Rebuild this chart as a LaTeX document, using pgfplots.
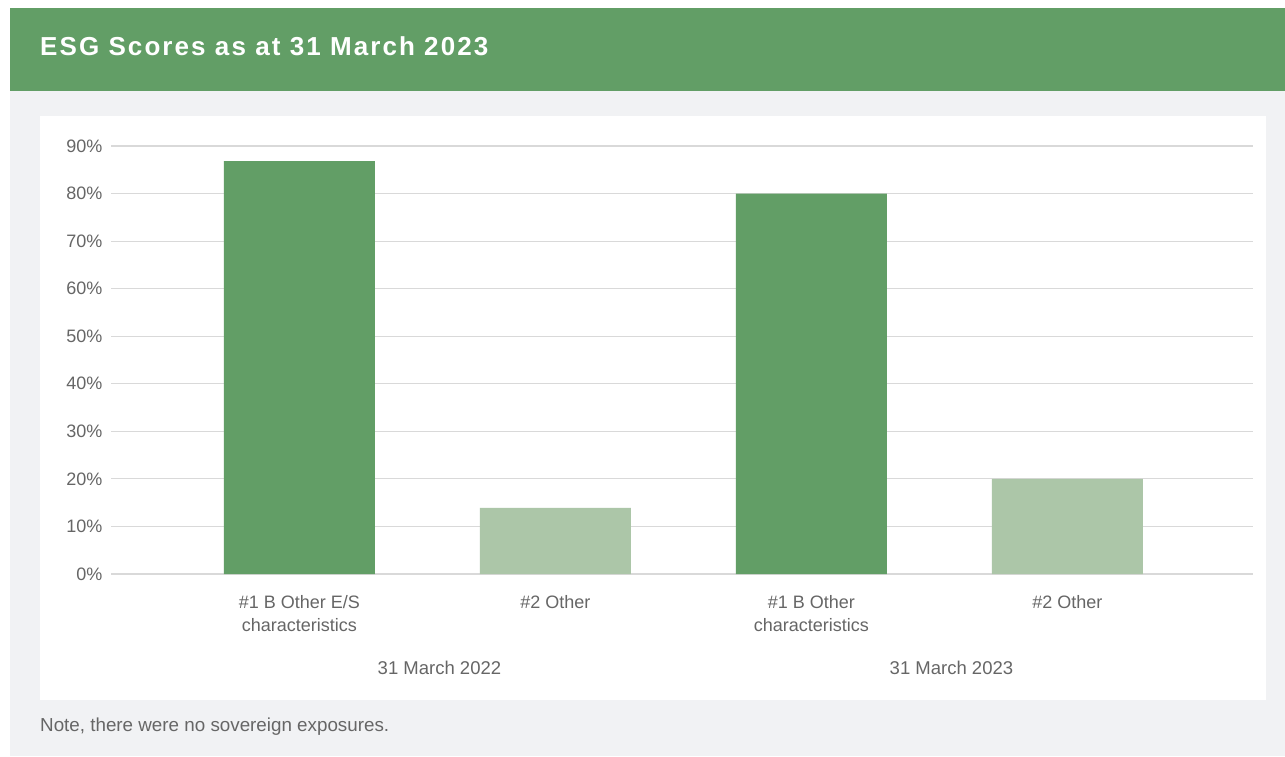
\documentclass[border=0pt]{standalone}
\usepackage{fontspec}
\setmainfont{Liberation Sans}
\newfontfamily\titlefont[LetterSpace=8]{Liberation Sans}
\usepackage{pgfplots}
\pgfplotsset{compat=1.18}
\definecolor{hdr}{RGB}{98,158,102}
\definecolor{bgc}{RGB}{241,242,244}
\definecolor{dg}{RGB}{98,158,102}
\definecolor{lg}{RGB}{172,198,168}
\definecolor{txt}{RGB}{102,102,102}
\definecolor{grd}{RGB}{217,217,217}
\begin{document}
\begin{tikzpicture}[x=1pt,y=1pt]
\fill[white] (0,0) rectangle (1285,756);
\useasboundingbox (0,0) rectangle (1285,756);
\fill[bgc] (10,0) rectangle (1285,665);
\fill[hdr] (10,665) rectangle (1285,748);
\fill[white] (40,56) rectangle (1266,640);
\node[anchor=base west, font=\titlefont\bfseries\fontsize{26}{30}\selectfont, text=white, inner sep=0] at (40,700) {ESG Scores as at 31 March 2023};
\node[anchor=base west, font=\fontsize{18.8}{22}\selectfont, text=txt, inner sep=0] at (40,25) {Note, there were no sovereign exposures.};
\begin{axis}[
  at={(111pt,182pt)}, anchor=south west, scale only axis,
  width=1142pt, height=428pt,
  ymin=0, ymax=90, xmin=-0.736, xmax=3.725,
  ytick={0,10,...,90},
  yticklabel={\pgfmathprintnumber{\tick}\%},
  xtick={0,1,2,3},
  xticklabels={{\#1 B Other E/S\\characteristics},{\#2 Other},{\#1 B Other\\characteristics},{\#2 Other}},
  /pgf/number format/assume math mode=true,
  ticklabel style={font=\fontsize{18}{23}\selectfont, text=txt},
  xticklabel style={align=center, yshift=-18pt},
  yticklabel style={xshift=-5pt},
  major tick length=0pt,
  axis line style={draw=none},
  ymajorgrids, major grid style={grd, line width=1.2pt},
  clip=false,
  ybar, bar width=151pt, bar shift=0pt,
]
\addplot[fill=dg, draw=none] coordinates {(0,86.8) (2,80.0)};
\addplot[fill=lg, draw=none] coordinates {(1,13.9) (3,20.0)};
\node[anchor=base, font=\fontsize{18.5}{22}\selectfont, text=txt, inner sep=0] at (axis cs:0.547,0) [yshift=-100pt] {31 March 2022};
\node[anchor=base, font=\fontsize{18.5}{22}\selectfont, text=txt, inner sep=0] at (axis cs:2.547,0) [yshift=-100pt] {31 March 2023};
\end{axis}
\end{tikzpicture}
\end{document}
